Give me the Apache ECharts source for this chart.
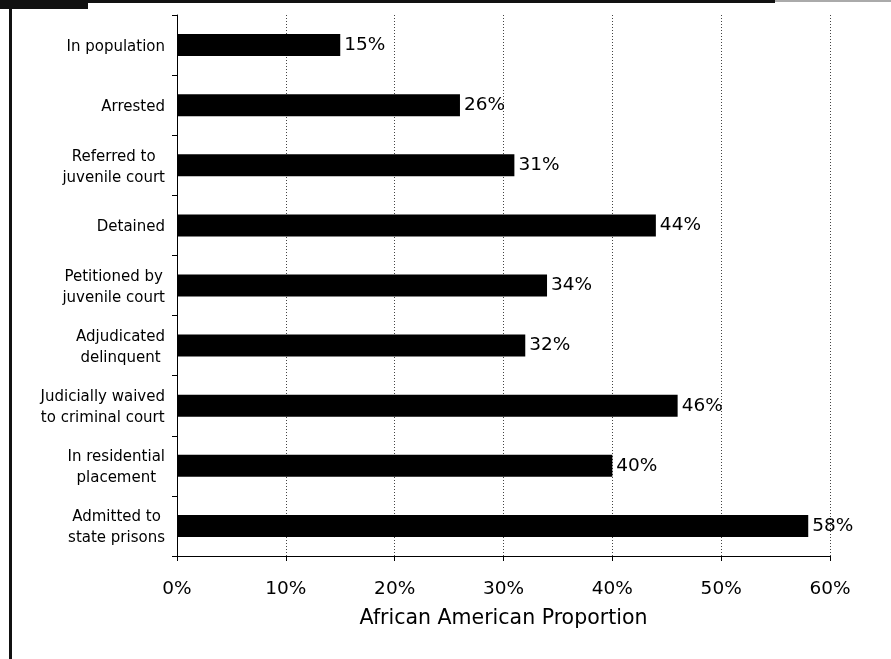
<!DOCTYPE html>
<html>
<head>
<meta charset="utf-8">
<script src="https://cdn.jsdelivr.net/npm/echarts@6/dist/echarts.min.js"></script>
<style>
html,body{margin:0;padding:0;background:#fff;}
#c{width:891px;height:659px;}
</style>
</head>
<body>
<div id="c"></div>
<script>
var categories = ["In population","Arrested","Referred to\njuvenile court","Detained","Petitioned by\njuvenile court","Adjudicated\ndelinquent","Judicially waived\nto criminal court","In residential\nplacement","Admitted to\nstate prisons"];
var values = [15, 26, 31, 44, 34, 32, 46, 40, 58];
var xTicks = [0, 10, 20, 30, 40, 50, 60];
var axisTitle = "African American Proportion";

var chart = echarts.init(document.getElementById('c'), null, {renderer:'canvas'});
var FONT = '"DejaVu Sans", "Liberation Sans", Arial, sans-serif';
chart.setOption({
  animation: false,
  backgroundColor: '#fff',
  textStyle: {fontFamily: FONT},
  grid: {left: 177, right: 61, top: 15, bottom: 103, containLabel: false},
  xAxis: {
    type: 'value', min: xTicks[0], max: xTicks[xTicks.length-1], interval: 10,
    name: axisTitle, nameLocation: 'middle', nameGap: 52,
    nameTextStyle: {fontSize: 20.5, color: '#000', fontFamily: FONT},
    axisLine: {show: true, lineStyle: {color: '#000', width: 1}},
    axisTick: {show: true, length: 5, inside: false, lineStyle: {color: '#000'}},
    axisLabel: {fontSize: 18.5, color: '#000', margin: 24, formatter: function(v){return v + '%';}, fontFamily: FONT},
    splitLine: {show: true, lineStyle: {type: [1, 2], color: '#444', width: 1}}
  },
  yAxis: {
    type: 'category', data: categories, inverse: true,
    axisLine: {show: true, lineStyle: {color: '#000', width: 1}},
    axisTick: {show: true, length: 5, lineStyle: {color: '#000'}},
    axisLabel: {
      fontSize: 15, color: '#000', margin: 12, lineHeight: 21, align: 'right', fontFamily: FONT,
      padding: [4, 0, 0, 0],
      formatter: function(v){
        return v.split('\n').map(function(s){return '{c|' + s + '}';}).join('\n');
      },
      rich: {c: {align: 'center', fontSize: 15, lineHeight: 21, color: '#000', fontFamily: FONT}}
    },
    splitLine: {show: false}
  },
  series: [{
    type: 'bar', data: values, barWidth: 22,
    itemStyle: {color: '#000'},
    label: {show: true, position: 'right', distance: 4, fontSize: 18.5, color: '#000', fontFamily: FONT,
      formatter: function(p){return p.value + '%';}}
  }],
  graphic: [
    {type: 'rect', shape: {x: 0, y: 0, width: 775, height: 3}, style: {fill: '#111'}},
    {type: 'rect', shape: {x: 775, y: 0, width: 116, height: 2}, style: {fill: '#aaa'}},
    {type: 'rect', shape: {x: 0, y: 0, width: 88, height: 9}, style: {fill: '#111'}},
    {type: 'rect', shape: {x: 9, y: 0, width: 3, height: 659}, style: {fill: '#111'}}
  ]
});
</script>
</body>
</html>
